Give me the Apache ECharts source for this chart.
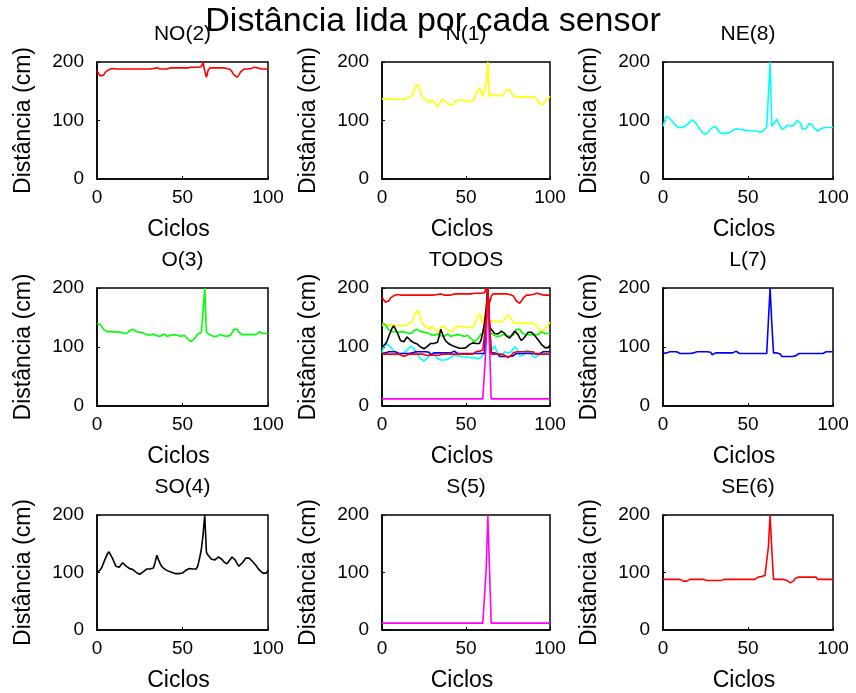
<!DOCTYPE html>
<html lang="pt">

<head>
  <meta charset="utf-8" />
  <script src="https://cdn.jsdelivr.net/npm/echarts@6.0.0/dist/echarts.min.js"></script>
</head>

<body style="margin: 0; background: #fff">
  <div id="container" style="width: 856px; height: 693px"></div>

  <script type="text/javascript">
    // leituras por sensor, ciclos 0..100
    const no2 = [185, 180, 176, 174, 178, 183, 186, 187, 188, 189, 190, 188, 188, 188, 188, 188, 188, 188, 188, 188,
      188, 188, 188, 188, 188, 188, 188, 188, 188, 188, 188, 188, 188, 189, 190, 190, 190, 188, 188, 188,
      188, 188, 189, 190, 190, 190, 190, 190, 190, 190, 190, 190, 190, 190, 191, 191, 191, 191, 191, 191,
      191, 192, 200, 185, 174, 186, 190, 190, 190, 190, 190, 190, 190, 190, 190, 190, 189, 188, 187, 183,
      178, 176, 174, 178, 183, 186, 188, 188, 188, 188, 189, 190, 191, 191, 190, 188, 188, 188, 188, 188, 188];

    const n1 = [137, 137, 137, 137, 137, 137, 137, 137, 136, 136, 136, 136, 136, 136, 137, 138, 140, 140, 142, 150,
      158, 162, 158, 148, 140, 136, 136, 134, 130, 132, 135, 133, 128, 124, 128, 132, 136, 135, 132, 130,
      127, 125, 127, 130, 134, 135, 135, 135, 135, 135, 133, 133, 133, 133, 133, 138, 145, 152, 156, 150,
      140, 150, 165, 200, 140, 145, 143, 143, 143, 143, 142, 142, 143, 147, 152, 155, 153, 147, 142, 140,
      140, 140, 140, 140, 140, 140, 140, 140, 140, 140, 140, 140, 138, 132, 128, 125, 128, 132, 135, 138, 142];

    const ne8 = [90, 100, 107, 105, 103, 100, 97, 93, 90, 88, 87, 88, 90, 90, 92, 95, 98, 101, 102, 97,
      92, 88, 85, 80, 77, 76, 79, 82, 85, 88, 91, 90, 85, 80, 78, 78, 78, 78, 78, 79,
      80, 83, 85, 86, 86, 85, 84, 84, 84, 83, 83, 83, 82, 82, 82, 82, 81, 80, 80, 82,
      85, 90, 145, 200, 90, 93, 98, 102, 95, 90, 85, 82, 88, 92, 90, 90, 88, 92, 95, 100,
      102, 95, 85, 82, 86, 90, 95, 97, 92, 87, 84, 82, 84, 86, 88, 88, 88, 88, 88, 88, 88];

    const o3 = [140, 141, 138, 133, 129, 127, 126, 126, 126, 125, 125, 125, 126, 127, 125, 123, 123, 123, 124, 128,
      131, 130, 128, 126, 125, 125, 124, 124, 123, 121, 120, 120, 121, 122, 122, 119, 117, 118, 121, 122,
      120, 118, 118, 120, 121, 121, 121, 120, 118, 118, 119, 120, 117, 114, 111, 109, 110, 114, 118, 122,
      125, 125, 160, 200, 125, 123, 121, 120, 118, 118, 118, 120, 121, 121, 119, 118, 118, 118, 120, 124,
      130, 133, 130, 125, 122, 121, 121, 121, 121, 121, 121, 121, 121, 121, 124, 126, 124, 123, 123, 123, 123];

    const l7 = [89, 89, 90, 92, 92, 92, 92, 92, 92, 90, 89, 89, 89, 89, 89, 89, 89, 89, 90, 92,
      92, 92, 92, 92, 92, 92, 92, 92, 91, 87, 90, 90, 90, 90, 90, 90, 90, 90, 90, 90,
      90, 90, 91, 93, 91, 89, 89, 89, 89, 89, 89, 89, 89, 89, 89, 89, 89, 89, 89, 89,
      89, 89, 145, 200, 140, 90, 90, 90, 90, 88, 84, 84, 84, 84, 84, 84, 84, 84, 85, 87,
      89, 89, 89, 89, 89, 89, 89, 89, 89, 89, 89, 89, 89, 89, 89, 90, 92, 92, 92, 92, 92];

    const so4 = [100, 98, 105, 110, 118, 125, 132, 136, 133, 125, 118, 111, 108, 109, 113, 117, 114, 111, 109, 107,
      106, 105, 102, 100, 98, 97, 99, 101, 104, 106, 107, 106, 105, 108, 118, 130, 122, 115, 110, 107,
      105, 103, 102, 101, 100, 99, 98, 98, 98, 98, 99, 101, 104, 106, 107, 107, 106, 106, 106, 112,
      125, 140, 165, 200, 135, 130, 127, 123, 120, 122, 125, 127, 127, 123, 119, 116, 115, 119, 123, 127,
      127, 121, 115, 111, 113, 117, 121, 125, 127, 125, 122, 119, 116, 112, 108, 104, 101, 99, 98, 99, 104];

    const s5 = [12, 12, 12, 12, 12, 12, 12, 12, 12, 12, 12, 12, 12, 12, 12, 12, 12, 12, 12, 12,
      12, 12, 12, 12, 12, 12, 12, 12, 12, 12, 12, 12, 12, 12, 12, 12, 12, 12, 12, 12,
      12, 12, 12, 12, 12, 12, 12, 12, 12, 12, 12, 12, 12, 12, 12, 12, 12, 12, 12, 12,
      12, 12, 105, 200, 105, 12, 12, 12, 12, 12, 12, 12, 12, 12, 12, 12, 12, 12, 12, 12,
      12, 12, 12, 12, 12, 12, 12, 12, 12, 12, 12, 12, 12, 12, 12, 12, 12, 12, 12, 12, 12];

    const se6 = [88, 88, 88, 88, 88, 88, 88, 88, 88, 88, 88, 85, 85, 85, 85, 88, 88, 88, 88, 88,
      88, 88, 88, 88, 88, 86, 86, 86, 86, 86, 86, 86, 86, 86, 86, 88, 88, 88, 88, 88,
      88, 88, 88, 88, 88, 88, 88, 88, 88, 88, 88, 88, 88, 90, 88, 90, 92, 92, 93, 94,
      95, 95, 145, 200, 140, 88, 88, 88, 88, 88, 88, 88, 88, 86, 83, 82, 83, 86, 90, 92,
      92, 92, 92, 92, 92, 92, 92, 92, 92, 92, 92, 88, 88, 88, 88, 88, 88, 88, 88, 88, 88];

    const xTicks = [0, 50, 100];
    const yTicks = [0, 100, 200];

    const cores = {
      no2: "#ff0000", n1: "#ffff00", ne8: "#00ffff", o3: "#00ff00",
      l7: "#0000ff", so4: "#000000", s5: "#ff00ff", se6: "#ff0000",
    };
    const sensores = { no2, n1, ne8, o3, l7, so4, s5, se6 };

    const paineis = [
      { titulo: "NO(2)", nomes: ["no2"] },
      { titulo: "N(1)", nomes: ["n1"] },
      { titulo: "NE(8)", nomes: ["ne8"] },
      { titulo: "O(3)", nomes: ["o3"] },
      { titulo: "TODOS", nomes: ["no2", "n1", "ne8", "o3", "l7", "so4", "s5", "se6"] },
      { titulo: "L(7)", nomes: ["l7"] },
      { titulo: "SO(4)", nomes: ["so4"] },
      { titulo: "S(5)", nomes: ["s5"] },
      { titulo: "SE(6)", nomes: ["se6"] },
    ];

    const colLeft = [97, 382, 663];
    const colWidth = [171, 168, 170];
    const rowTop = [62, 288, 515];
    const rowHeight = [117, 118, 117];
    const fonte = "Liberation Sans, Arial, sans-serif";

    var grid = [], xAxis = [], yAxis = [], series = [];
    var title = [];

    paineis.forEach(function (p, i) {
      var r = Math.floor(i / 3), c = i % 3;
      grid.push({
        left: colLeft[c], top: rowTop[r], width: colWidth[c], height: rowHeight[r],
        show: true, borderColor: "#000", borderWidth: 1.5, backgroundColor: "#fff",
      });
      title.push({
        text: p.titulo, left: colLeft[c] + colWidth[c] / 2, top: rowTop[r] - 38,
        textAlign: "center", padding: 0,
        textStyle: { fontFamily: fonte, fontSize: 21, fontWeight: "normal", color: "#000" },
      });
      xAxis.push({
        gridIndex: i, type: "value", min: xTicks[0], max: xTicks[2], interval: xTicks[1] - xTicks[0],
        name: "Ciclos", nameLocation: "middle", nameGap: 39,
        nameTextStyle: { fontFamily: fonte, fontSize: 23, color: "#000", padding: [0, 8, 0, 0] },
        axisLine: { lineStyle: { color: "#000", width: 1.5 } },
        axisTick: { inside: true, length: 3, lineStyle: { color: "#000" } },
        axisLabel: { fontFamily: fonte, fontSize: 19, color: "#000", margin: 9 },
        splitLine: { show: false },
      });
      yAxis.push({
        gridIndex: i, type: "value", min: yTicks[0], max: yTicks[2], interval: yTicks[1] - yTicks[0],
        name: "Distância (cm)", nameLocation: "middle", nameGap: 62,
        nameTextStyle: { fontFamily: fonte, fontSize: 23, color: "#000" },
        axisLine: { lineStyle: { color: "#000", width: 1.5 } },
        axisTick: { inside: true, length: 3, lineStyle: { color: "#000" } },
        axisLabel: { fontFamily: fonte, fontSize: 19, color: "#000", margin: 13 },
        splitLine: { show: false },
      });
      p.nomes.forEach(function (nome) {
        series.push({
          type: "line", xAxisIndex: i, yAxisIndex: i,
          showSymbol: false, symbol: "none",
          lineStyle: { color: cores[nome], width: 1.6 },
          data: sensores[nome].map(function (v, k) { return [k, v]; }),
        });
      });
    });

    // titulo geral por cima dos titulos dos paineis
    title.push({
      text: "Distância lida por cada sensor",
      left: 433, top: 5, textAlign: "center", padding: 0,
      textStyle: { fontFamily: fonte, fontSize: 34, fontWeight: "normal", color: "#000" },
    });

    var dom = document.getElementById("container");
    var myChart = echarts.init(dom, null, { renderer: "canvas" });
    myChart.setOption({
      animation: false,
      backgroundColor: "#fff",
      title: title,
      grid: grid,
      xAxis: xAxis,
      yAxis: yAxis,
      series: series,
    });
  </script>
</body>

</html>
